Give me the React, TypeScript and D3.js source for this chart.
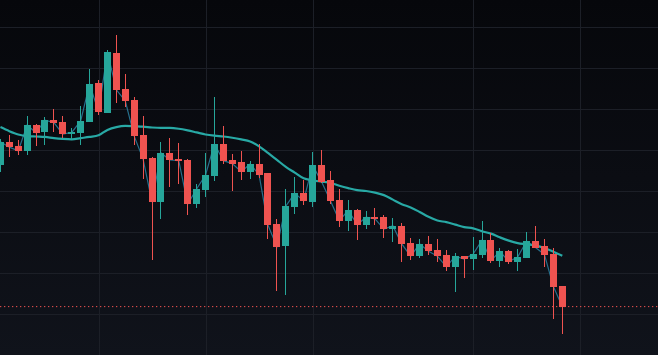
import React from 'react';
import * as d3 from 'd3';

const W = 658;
const H = 355;

const opens = [136.3,141.9,141.0,139.8,146.0,144.5,147.3,146.8,143.9,144.2,146.9,156.3,149.1,163.7,154.9,152.3,143.7,138.1,127.3,139.3,137.9,137.6,126.9,130.3,133.7,141.5,137.6,137.1,134.7,136.6,134.4,122.0,116.6,126.2,129.5,127.3,136.3,132.7,127.8,122.8,125.4,121.8,123.7,123.6,120.8,121.5,117.3,114.1,117.1,115.6,114.4,111.5,114.1,113.4,114.5,118.0,113.0,115.3,112.8,113.7,117.8,116.6,114.6,106.8];
const highs = [142.6,143.7,142.4,148.3,146.3,148.0,150.0,148.3,145.4,150.7,159.8,157.1,164.4,168.0,158.5,153.0,148.3,138.2,142.0,142.9,141.7,137.8,131.7,139.3,153.0,145.9,139.0,139.8,137.3,141.5,134.5,123.2,130.5,133.4,132.7,139.5,140.0,134.9,130.5,127.8,125.6,125.2,125.9,124.1,123.3,122.1,118.5,118.2,119.0,118.2,115.6,115.0,114.2,118.9,122.7,119.7,116.1,115.6,115.9,119.9,121.4,118.3,116.0,106.9];
const lows = [134.7,138.4,138.8,138.8,141.0,141.2,144.4,143.0,142.7,141.3,146.8,148.5,149.0,151.5,150.6,141.2,132.9,113.2,123.2,131.0,131.7,124.1,125.8,128.6,132.5,136.6,130.0,132.7,133.0,133.3,118.3,105.6,104.6,124.3,126.6,126.2,131.9,126.8,121.3,120.3,118.1,120.8,121.8,118.6,117.6,112.7,113.2,113.7,114.4,112.8,110.5,105.4,108.8,110.8,113.7,112.5,111.5,112.3,110.6,113.6,116.1,111.5,98.9,95.1];
const closes = [142.0,140.7,139.8,146.1,144.2,147.3,146.7,143.9,144.3,147.1,156.1,149.3,163.9,154.7,152.0,143.4,137.8,127.3,139.3,137.6,137.4,126.8,130.5,133.9,141.5,137.4,136.7,134.7,136.6,134.0,121.7,116.4,126.3,129.5,127.6,136.3,132.3,127.6,122.8,125.3,121.8,123.6,123.2,120.7,121.5,117.1,114.1,117.1,115.3,114.1,111.5,114.1,113.4,114.6,118.0,113.0,115.3,112.8,113.9,117.8,116.2,114.5,106.7,101.8];
const movingAvg = [145.6,144.6,143.8,143.4,143.3,143.2,142.9,142.7,142.6,142.9,143.2,143.6,144.9,145.6,145.9,145.8,145.7,145.5,145.4,145.4,145.2,144.8,144.3,143.8,143.5,143.3,143.0,142.6,142.1,140.9,139.3,137.6,135.9,134.5,133.1,132.6,132.3,132.0,131.3,130.7,130.2,130.0,129.6,129.0,127.9,126.8,126.0,124.9,123.7,122.8,122.4,121.8,121.2,120.9,120.2,119.6,118.7,117.9,117.3,117.0,116.7,116.1,115.2,114.2];
const priceTicks = [100, 110, 120, 130, 140, 150, 160, 170];
const timeGridIdx = [11, 23, 35, 53, 65];

const UP = '#26a69a';
const DOWN = '#ef5350';

export default function App() {
  const n = closes.length;
  const x = d3.scaleLinear().domain([0, n - 1]).range([0.4, 562.3]);
  const y = d3.scaleLinear().domain([90, 176.6]).range([H, 0]);
  const bodyW = 7;

  const closeLine = d3.line<number>().x((_, i) => x(i)).y((d) => y(d))(closes) || '';
  const maLine = d3
    .line<number>()
    .x((_, i) => x(i))
    .y((d) => y(d))
    .curve(d3.curveMonotoneX)(movingAvg) || '';

  const lastClose = closes[n - 1];

  return (
    <svg
      width={W}
      height={H}
      style={{ position: 'fixed', left: 0, top: 0, display: 'block' }}
    >
      <defs>
        <linearGradient id="bg" x1="0" y1="0" x2="0" y2="1">
          <stop offset="0" stopColor="#06070b" />
          <stop offset="1" stopColor="#10131b" />
        </linearGradient>
      </defs>
      <rect x={0} y={0} width={W} height={H} fill="url(#bg)" />
      <g shapeRendering="crispEdges">
        {priceTicks.map((p) => (
          <line key={'h' + p} x1={0} x2={W} y1={Math.round(y(p)) + 0.5} y2={Math.round(y(p)) + 0.5} stroke="#1c1f27" strokeWidth={1} />
        ))}
        {timeGridIdx.map((i) => (
          <line key={'v' + i} x1={Math.round(x(i)) + 0.5} x2={Math.round(x(i)) + 0.5} y1={0} y2={H} stroke="#1c1f27" strokeWidth={1} />
        ))}
      </g>
      <path d={closeLine} fill="none" stroke="#276f8c" strokeWidth={1.2} />
      <path d={maLine} fill="none" stroke="#28a9a5" strokeWidth={2.2} />
      <g shapeRendering="crispEdges">
        {closes.map((c, i) => {
          const o = opens[i];
          const col = c >= o ? UP : DOWN;
          const left = Math.round(x(i) - bodyW / 2);
          const cx = left + 3.5;
          const top = y(Math.max(o, c));
          const h = Math.max(1, Math.abs(y(o) - y(c)));
          return (
            <g key={i}>
              <line x1={cx} x2={cx} y1={y(highs[i])} y2={y(lows[i])} stroke={col} strokeWidth={1} />
              <rect x={left} y={top} width={bodyW} height={h} fill={col} />
            </g>
          );
        })}
      </g>
      <line
        x1={0}
        x2={W}
        y1={y(lastClose)}
        y2={y(lastClose)}
        stroke={DOWN}
        strokeWidth={1}
        strokeDasharray="1.3 2.7"
      />
    </svg>
  );
}
